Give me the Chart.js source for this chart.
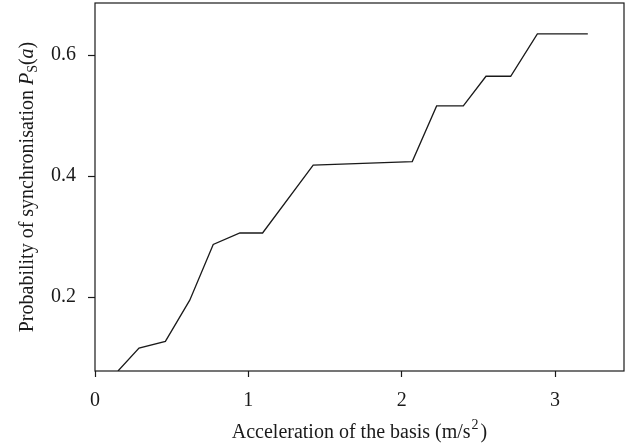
<!DOCTYPE html>
<html>
<head>
<meta charset="utf-8">
<script src="https://cdn.jsdelivr.net/npm/chart.js@4/dist/chart.umd.min.js"></script>
<style>
  html, body { margin: 0; padding: 0; background: #fff; }
  #wrap { width: 632px; height: 445px; position: relative; }
</style>
</head>
<body>
<div id="wrap"><canvas id="mainChart"></canvas></div>
<script>
// acceleration of the basis (m/s^2) and probability of synchronisation
const accel = [0.15, 0.287, 0.459, 0.618, 0.771, 0.945, 1.093, 1.423, 2.069, 2.228, 2.402, 2.55, 2.711, 2.885, 3.214];
const probSync = [0.078, 0.116, 0.127, 0.195, 0.287, 0.306, 0.306, 0.418, 0.424, 0.516, 0.516, 0.565, 0.565, 0.635, 0.635];
const xTicks = [0, 1, 2, 3];
const yTicks = [0.2, 0.4, 0.6];

const SERIF = '"Liberation Serif", "DejaVu Serif", serif';
const INK = '#1a1a1a';
const TITLE = '20px ' + SERIF;
const SMALL = '14px ' + SERIF;

// frame + axis titles with italic / sub / superscript parts
const decor = {
    id: 'decor',
    afterDraw(chart) {
        const { ctx, chartArea: a } = chart;
        ctx.save();
        ctx.strokeStyle = INK;
        ctx.lineWidth = 1.2;
        ctx.strokeRect(a.left, a.top, a.right - a.left, a.bottom - a.top);

        // x title
        ctx.fillStyle = INK;
        ctx.textBaseline = 'alphabetic';
        const main = 'Acceleration of the basis (m/s';
        ctx.font = TITLE;
        const w1 = ctx.measureText(main).width;
        ctx.font = SMALL;
        const w2 = ctx.measureText('2').width;
        ctx.font = TITLE;
        const w3 = ctx.measureText(')').width;
        let x = (a.left + a.right) / 2 - (w1 + w2 + w3 + 3) / 2;
        const y = 438;
        ctx.fillText(main, x, y);
        ctx.font = SMALL;
        ctx.fillText('2', x + w1 + 1, y - 9);
        ctx.font = TITLE;
        ctx.fillText(')', x + w1 + w2 + 3, y);

        // y title (rotated)
        const parts = [
            { t: 'Probability of synchronisation ', f: TITLE, dy: 0 },
            { t: 'P', f: 'italic ' + TITLE, dy: 0 },
            { t: 'S', f: SMALL, dy: 4 },
            { t: '(', f: TITLE, dy: 0 },
            { t: 'a', f: 'italic ' + TITLE, dy: 0 },
            { t: ')', f: TITLE, dy: 0 }
        ];
        let total = 0;
        parts.forEach(p => { ctx.font = p.f; p.w = ctx.measureText(p.t).width; total += p.w; });
        ctx.translate(33, (a.top + a.bottom) / 2);
        ctx.rotate(-Math.PI / 2);
        let px = -total / 2;
        parts.forEach(p => {
            ctx.font = p.f;
            ctx.fillText(p.t, px, p.dy);
            px += p.w;
        });
        ctx.restore();
    }
};

new Chart(document.getElementById('mainChart').getContext('2d'), {
    type: 'line',
    data: {
        datasets: [{
            data: accel.map((v, i) => ({ x: v, y: probSync[i] })),
            borderColor: INK,
            borderWidth: 1.3,
            pointRadius: 0,
            tension: 0,
            fill: false
        }]
    },
    options: {
        responsive: true, maintainAspectRatio: false, animation: false,
        layout: { padding: { top: 3, right: 8, left: 0, bottom: 0 } },
        plugins: { legend: { display: false }, tooltip: { enabled: false } },
        scales: {
            x: {
                type: 'linear', min: 0, max: 3.45,
                afterBuildTicks: s => { s.ticks = xTicks.map(v => ({ value: v })); },
                afterFit: s => { s.height = 74; s.paddingLeft = 0; s.paddingRight = 0; },
                border: { display: false },
                grid: { drawOnChartArea: false, tickLength: 6, color: INK, tickWidth: 1.2 },
                ticks: { color: INK, font: { family: SERIF, size: 20 }, padding: 12, callback: v => String(v) }
            },
            y: {
                type: 'linear', min: 0.078, max: 0.686,
                afterBuildTicks: s => { s.ticks = yTicks.map(v => ({ value: v })); },
                afterFit: s => { s.width = 95; s.paddingTop = 0; s.paddingBottom = 0; },
                border: { display: false },
                grid: { drawOnChartArea: false, tickLength: 7, color: INK, tickWidth: 1.2 },
                ticks: { color: INK, font: { family: SERIF, size: 20 }, padding: 12, callback: v => v.toFixed(1) }
            }
        }
    },
    plugins: [decor]
});
</script>
</body>
</html>
